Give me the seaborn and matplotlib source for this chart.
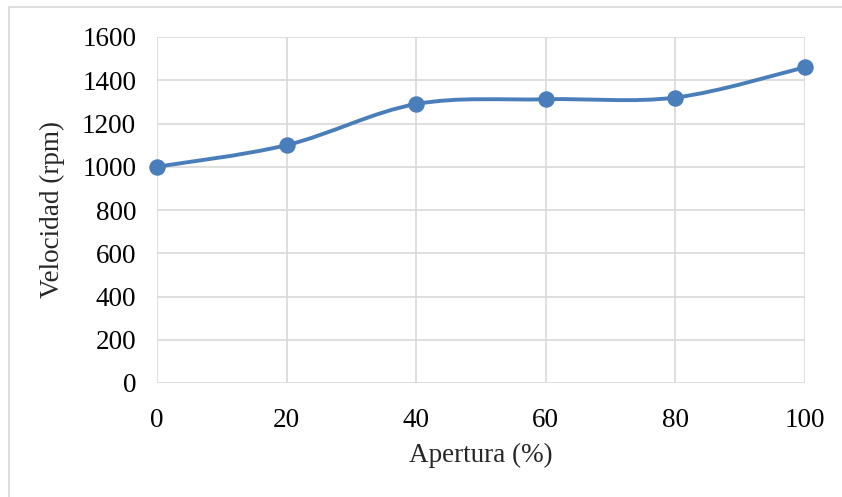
import numpy as np
import pandas as pd
import seaborn as sns
import matplotlib.pyplot as plt
from matplotlib.path import Path
from matplotlib.patches import PathPatch, Rectangle

apertura = [0, 20, 40, 60, 80, 100]
velocidad = [1000, 1100, 1290, 1312, 1320, 1460]
y_ticks = [0, 200, 400, 600, 800, 1000, 1200, 1400, 1600]
x_ticks = [0, 20, 40, 60, 80, 100]

blue = '#4A7EBB'

sns.set_theme(style='white')
plt.rcParams['font.family'] = ['Liberation Serif', 'DejaVu Serif']

fig = plt.figure(figsize=(8.42, 4.97), dpi=100)
ax = fig.add_axes([157 / 842, 1 - 383 / 497, 648 / 842, 346 / 497])

# outer chart border like the spreadsheet frame
fig.patches.append(Rectangle((9 / 842, -0.1), 1.0, 1 - 7 / 497 + 0.1,
                             transform=fig.transFigure, fill=False,
                             edgecolor='#D9D9D9', linewidth=1.2))

# smoothed line (spreadsheet style bezier through the points)
pts = np.column_stack([apertura, velocidad]).astype(float)
verts = [pts[0]]
codes = [Path.MOVETO]
n = len(pts)
for i in range(n - 1):
    p0 = pts[i - 1] if i > 0 else pts[i]
    p1 = pts[i]
    p2 = pts[i + 1]
    p3 = pts[i + 2] if i + 2 < n else pts[i + 1]
    c1 = p1 + (p2 - p0) / 6
    c2 = p2 - (p3 - p1) / 6
    verts += [c1, c2, p2]
    codes += [Path.CURVE4] * 3
ax.add_patch(PathPatch(Path(verts, codes), facecolor='none', edgecolor=blue,
                       linewidth=2.8, capstyle='round', zorder=3))

df = pd.DataFrame({'Apertura': apertura, 'Velocidad': velocidad})
sns.scatterplot(data=df, x='Apertura', y='Velocidad', ax=ax, s=120,
                color=blue, edgecolor=blue, zorder=4, clip_on=False)

ax.set_xlim(0, 100)
ax.set_ylim(0, 1600)
ax.set_xticks(x_ticks)
ax.set_yticks(y_ticks)
ax.grid(True, color='#D9D9D9', linewidth=1.2)
ax.set_axisbelow(True)
for s in ax.spines.values():
    s.set_visible(False)
ax.tick_params(axis='both', length=0, labelsize=19.5, colors='black')
ax.tick_params(axis='y', pad=15)
ax.tick_params(axis='x', pad=18)
ax.set_xlabel('Apertura (%)', fontsize=19.5, labelpad=7)
ax.set_ylabel('Velocidad (rpm)', fontsize=19.5, labelpad=12)

fig.savefig('out.png', dpi=100)
